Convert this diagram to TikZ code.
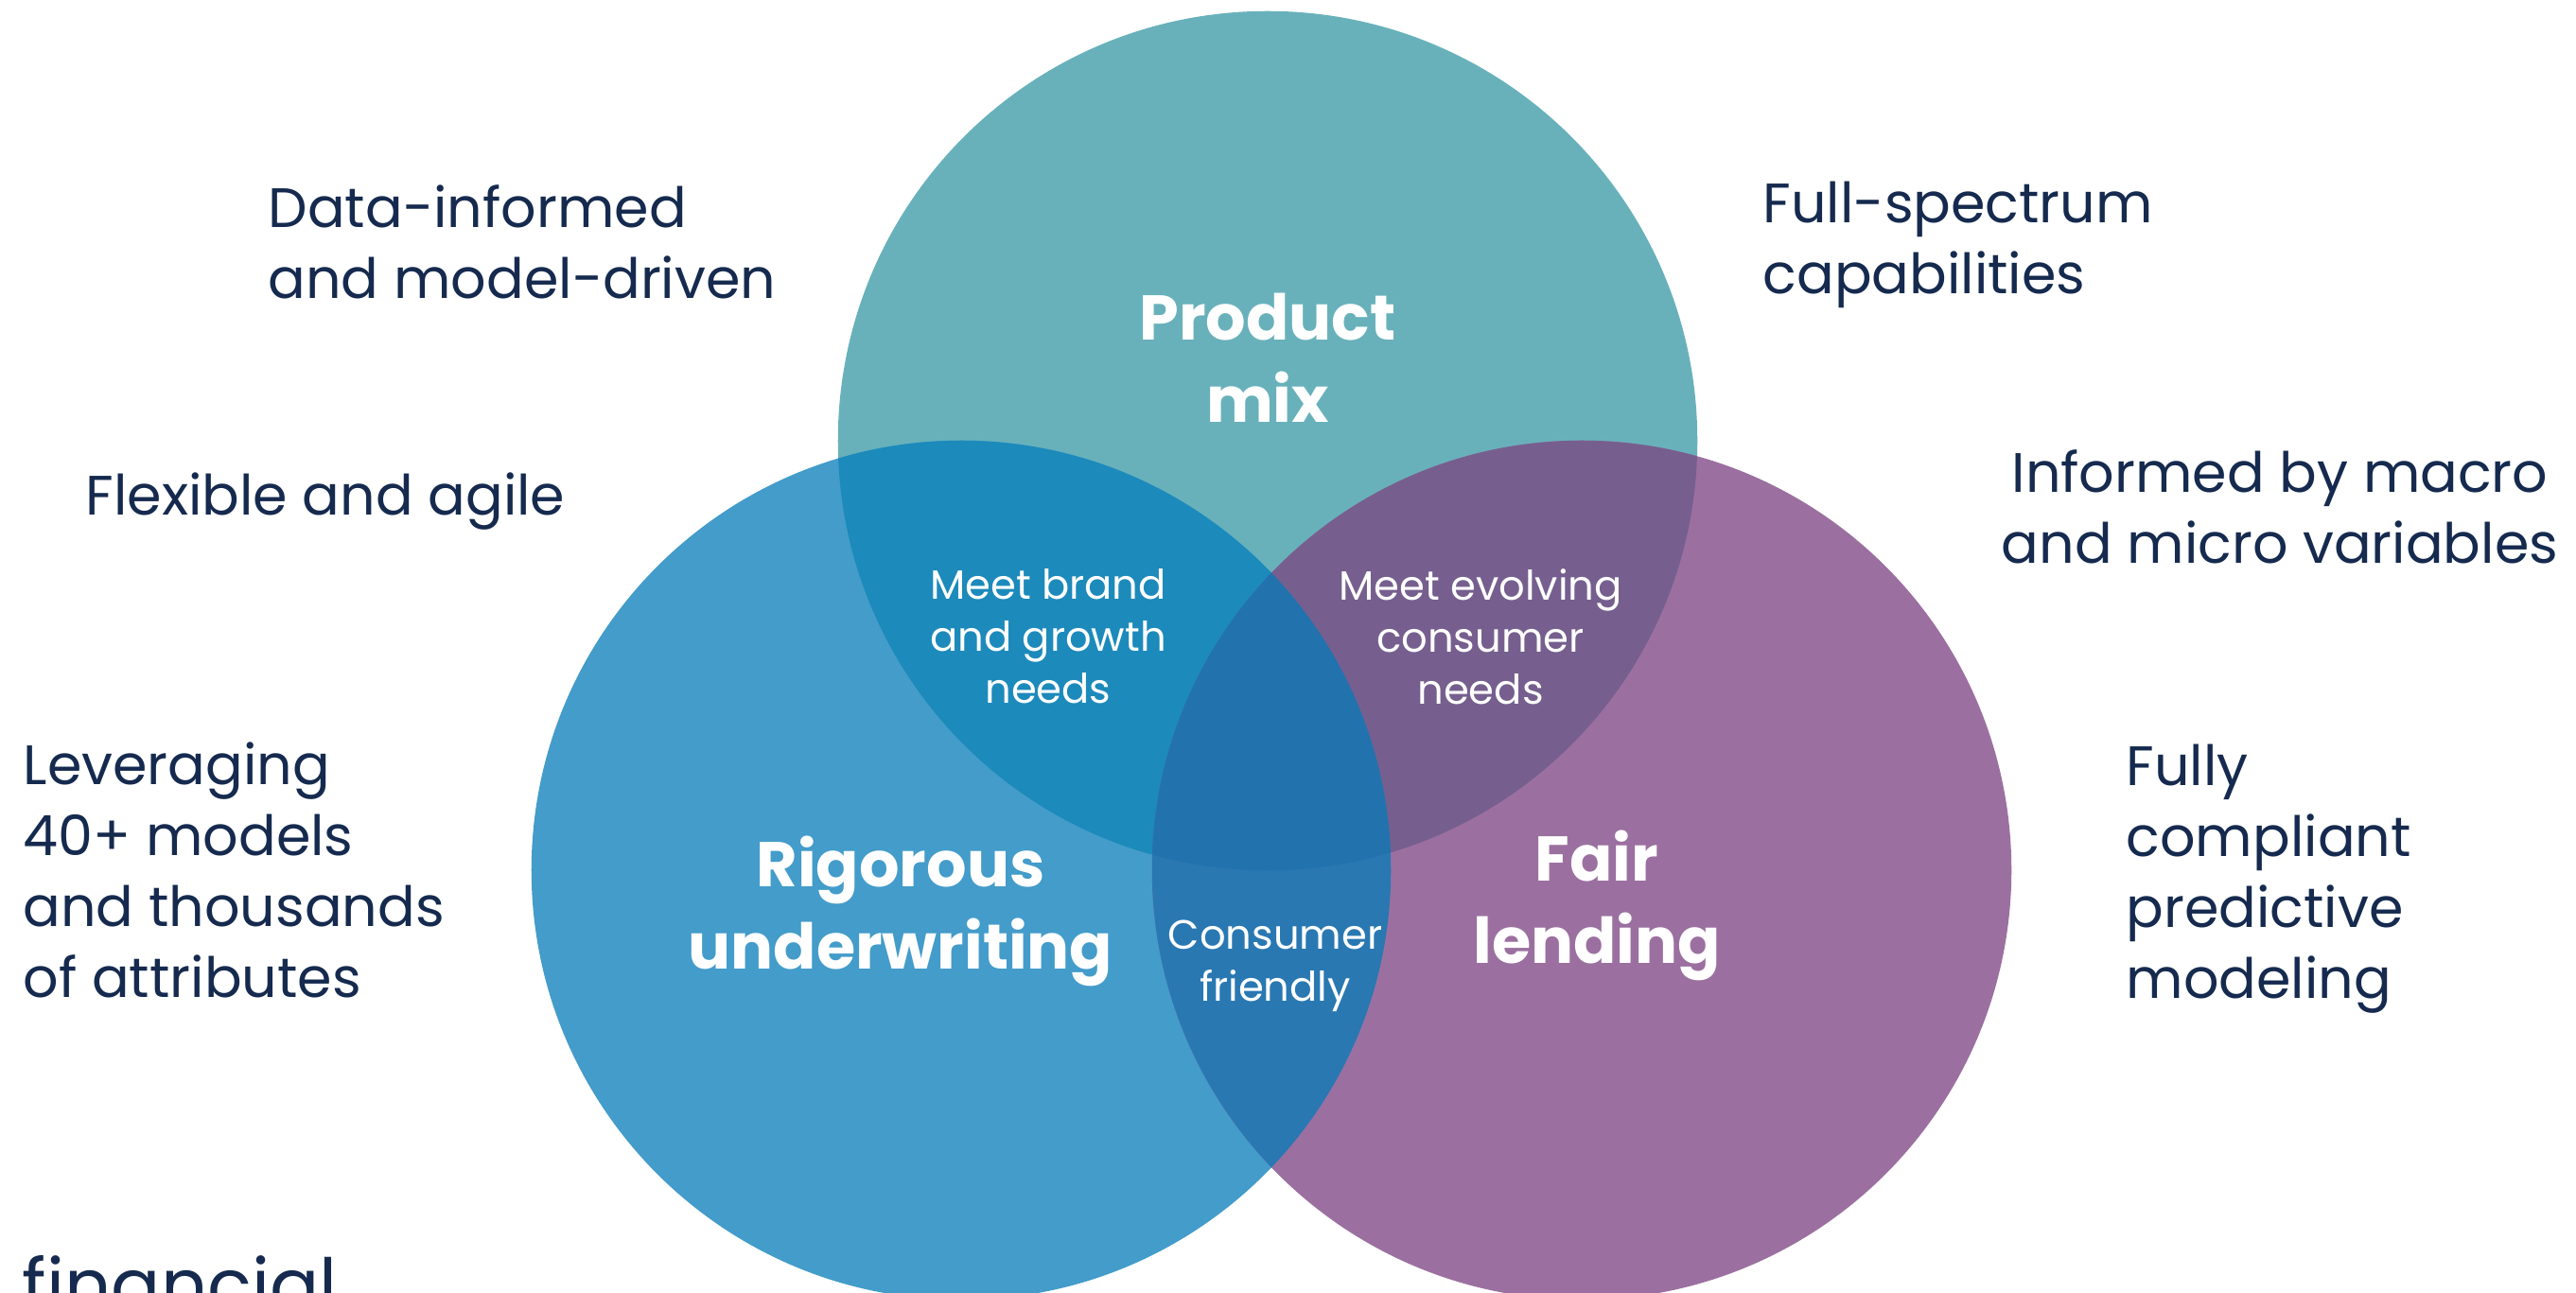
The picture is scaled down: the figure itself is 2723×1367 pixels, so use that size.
\documentclass[tikz,border=0pt]{standalone}
\usepackage{fontspec}
\setmainfont{Poppins}
\begin{document}
\definecolor{navy}{HTML}{152A4E}
\definecolor{tealc}{HTML}{68B1BB}
\definecolor{bluec}{HTML}{439CCA}
\definecolor{purplec}{HTML}{9B70A0}
\definecolor{tealblue}{HTML}{1C8ABB}
\definecolor{tealpurple}{HTML}{765F8E}
\definecolor{bluepurple}{HTML}{2978B2}
\definecolor{allthree}{HTML}{2272AE}
\begin{tikzpicture}[x=0.01cm,y=-0.01cm,
  sidetext/.style={text=navy,inner sep=0pt,font=\fontsize{16.7}{21.3}\selectfont},
  headtext/.style={text=white,inner sep=0pt,align=center,font=\fontsize{19}{24.7}\selectfont\bfseries},
  overlaptext/.style={text=white,inner sep=0pt,align=center,font=\fontsize{12.3}{15.6}\selectfont}]
\useasboundingbox (0,0) rectangle (2723,1367);
\fill[white] (0,0) rectangle (2723,1367);
% circle centres
\coordinate (cT) at (1340,466);
\coordinate (cL) at (1016,920);
\coordinate (cR) at (1672,920);
\def\rad{4.54cm}
% the three sets
\fill[tealc] (cT) circle[radius=\rad];
\fill[bluec] (cL) circle[radius=\rad];
\fill[purplec] (cR) circle[radius=\rad];
% pairwise overlaps
\begin{scope}
  \clip (cT) circle[radius=\rad];
  \fill[tealblue] (cL) circle[radius=\rad];
  \fill[tealpurple] (cR) circle[radius=\rad];
\end{scope}
\begin{scope}
  \clip (cL) circle[radius=\rad];
  \fill[bluepurple] (cR) circle[radius=\rad];
  \clip (cR) circle[radius=\rad];
  \fill[allthree] (cT) circle[radius=\rad];
\end{scope}
% set titles
\node[headtext] (pm) at (1340,378) {Product\\mix};
\node[headtext] (ru) at (952,963) {Rigorous\\underwriting};
\node[headtext] (fl) at (1688,957) {Fair\\lending};
% overlap labels
\node[overlaptext] (mb) at (1108,673) {Meet brand\\and growth\\needs};
\node[overlaptext] (me) at (1565,673) {Meet evolving\\consumer\\needs};
\node[overlaptext] (cf) at (1348,1021) {Consumer\\friendly};
% side notes
\node[sidetext,align=left,anchor=west] (di) at (283,256) {Data-informed\\and model-driven};
\node[sidetext,align=left,anchor=west] (fa) at (90,530) {Flexible and agile};
\node[sidetext,align=left,anchor=west] (lv) at (24,920) {Leveraging\\40+ models\\and thousands\\of attributes};
\node[text=navy,inner sep=0pt,anchor=base west,font=\fontsize{22}{26}\selectfont] (fi) at (23,1386) {financial};
\node[sidetext,align=left,anchor=west] (fs) at (1863,259) {Full-spectrum\\capabilities};
\node[sidetext,align=center] (ib) at (2410,536) {Informed by macro\\and micro variables};
\node[sidetext,align=left,anchor=west] (fc) at (2247,929) {Fully\\compliant\\predictive\\modeling};
\end{tikzpicture}
\end{document}
